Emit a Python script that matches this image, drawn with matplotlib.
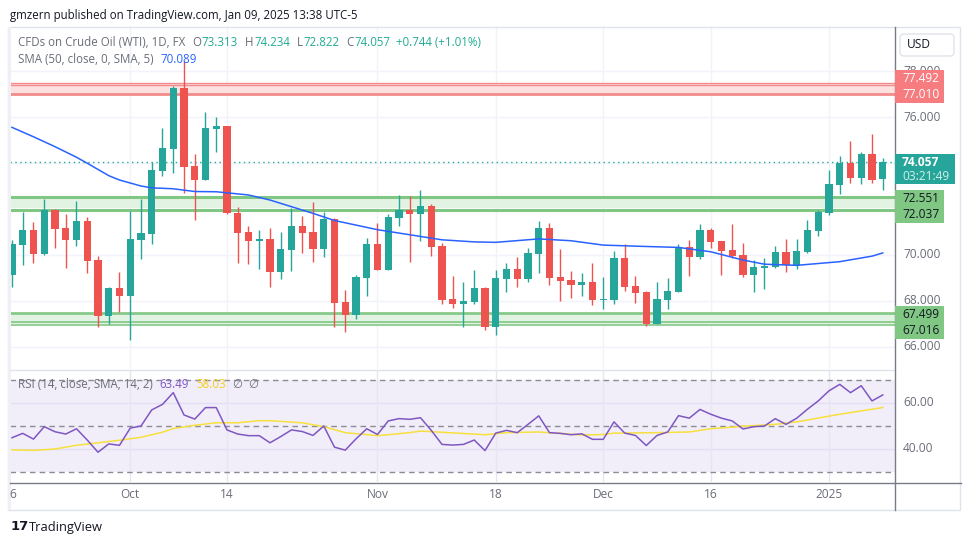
import matplotlib
matplotlib.use("Agg")
import matplotlib.pyplot as plt
from matplotlib.patches import Rectangle, FancyBboxPatch

W, H = 970, 545
plt.rcParams['font.family'] = ['Open Sans', 'DejaVu Sans']

# ---------------- data ----------------
opens = [69.13, 70.43, 71.09, 70.04, 71.96, 71.17, 70.65, 71.48, 69.78, 67.36,
         68.57, 68.23, 70.65, 70.91, 73.67, 74.61, 77.26, 73.87, 73.27, 75.49,
         75.61, 71.83, 71.00, 70.62, 70.69, 69.28, 70.23, 71.26, 71.00, 70.27,
         71.57, 67.96, 67.40, 69.01, 70.48, 69.36, 71.61, 71.96, 71.78, 72.13,
         70.39, 68.09, 67.88, 67.97, 68.57, 66.88, 68.97, 69.39, 68.97, 70.06,
         71.17, 69.04, 68.91, 68.71, 68.83, 68.06, 68.06, 69.88, 68.65, 68.39,
         67.01, 68.06, 68.40, 70.35, 69.93, 71.09, 70.61, 70.22, 70.00, 69.13,
         69.45, 69.48, 70.13, 69.54, 70.14, 71.06, 71.84, 73.06, 74.00, 73.36,
         74.39, 73.313]
highs = [70.65, 71.87, 71.43, 72.43, 71.98, 71.78, 72.35, 71.67, 69.96, 68.60,
         69.26, 71.91, 72.43, 74.04, 75.52, 77.35, 78.45, 74.39, 76.22, 76.00,
         75.63, 72.07, 71.26, 71.09, 71.17, 71.00, 72.03, 71.70, 72.30, 71.87,
         71.60, 68.48, 69.13, 70.74, 71.39, 71.78, 72.61, 72.57, 72.83, 72.22,
         70.51, 69.09, 68.83, 69.35, 68.62, 69.35, 69.65, 69.91, 70.30, 71.48,
         71.39, 70.26, 69.30, 69.22, 69.65, 69.04, 70.17, 70.48, 69.09, 68.45,
         68.83, 69.00, 70.48, 70.65, 71.35, 71.17, 70.63, 71.35, 70.52, 69.78,
         69.88, 70.39, 70.70, 70.70, 71.52, 71.96, 73.70, 74.30, 74.96, 74.48,
         75.26, 74.234]
lows = [68.62, 69.57, 69.67, 69.98, 70.32, 69.45, 70.41, 69.23, 66.88, 67.00,
        67.51, 66.30, 69.83, 70.48, 73.43, 73.58, 72.68, 71.54, 73.25, 74.49,
        71.80, 69.67, 69.62, 69.41, 68.62, 68.97, 69.32, 70.10, 69.71, 69.93,
        66.88, 66.67, 67.23, 68.23, 69.34, 69.35, 71.26, 69.71, 70.62, 69.97,
        67.88, 67.71, 66.88, 67.88, 66.75, 66.53, 68.41, 68.62, 68.84, 69.23,
        68.71, 68.01, 68.14, 68.23, 67.84, 67.67, 67.88, 68.45, 67.93, 66.93,
        66.99, 67.67, 68.38, 69.10, 69.84, 70.32, 69.14, 69.88, 69.06, 68.41,
        68.54, 69.45, 69.26, 69.41, 70.10, 70.84, 71.75, 72.67, 73.14, 73.10,
        73.14, 72.822]
closes = [70.48, 71.09, 70.04, 71.96, 71.13, 70.65, 71.48, 69.74, 67.36, 68.57,
          68.23, 70.70, 70.96, 73.70, 74.65, 77.26, 73.84, 73.27, 75.52, 75.61,
          71.81, 70.97, 70.62, 70.69, 69.28, 70.26, 71.26, 70.97, 70.27, 71.57,
          67.93, 67.40, 69.04, 70.48, 69.36, 71.65, 71.96, 71.78, 72.13, 70.36,
          68.06, 67.88, 68.00, 68.57, 66.88, 69.00, 69.39, 68.97, 70.09, 71.17,
          69.01, 68.88, 68.71, 68.83, 68.06, 68.10, 69.88, 68.62, 68.36, 67.01,
          68.09, 68.43, 70.35, 69.93, 71.09, 70.58, 70.19, 69.97, 69.13, 69.48,
          69.52, 70.13, 69.57, 70.17, 71.09, 71.87, 73.09, 74.00, 73.36, 74.39,
          73.27, 74.057]

sma_idx = [0, 2, 4, 6, 7, 9, 10, 12, 13, 15, 17, 19, 22, 24, 26, 28, 30, 32, 34,
           37, 40, 43, 45, 49, 52, 55, 59, 62, 65, 68, 70, 73, 77, 80, 81]
sma_val = [75.55, 75.14, 74.71, 74.25, 73.99, 73.45, 73.26, 73.00, 72.92, 72.88,
           72.76, 72.75, 72.61, 72.39, 72.10, 71.81, 71.50, 71.30, 71.10, 70.88,
           70.66, 70.57, 70.55, 70.70, 70.62, 70.43, 70.37, 70.33, 70.14, 69.78,
           69.60, 69.55, 69.71, 69.95, 70.089]

rsi = [44.9, 46.8, 44.3, 49.7, 47.5, 46.5, 48.8, 43.9, 38.6, 42.2,
       41.6, 49.1, 50.0, 57.0, 59.4, 64.5, 54.8, 53.0, 58.0, 58.0,
       48.3, 46.5, 45.8, 45.8, 42.7, 45.4, 48.3, 47.6, 45.9, 50.0,
       40.8, 39.5, 44.4, 48.8, 46.3, 52.2, 53.2, 52.9, 53.6, 48.1,
       42.0, 41.7, 42.0, 43.9, 39.3, 46.9, 48.1, 47.1, 50.7, 54.4,
       47.1, 46.8, 46.2, 46.6, 44.2, 44.2, 51.8, 46.9, 45.9, 41.5,
       45.9, 47.4, 54.5, 53.4, 57.2, 55.1, 53.4, 52.2, 48.7, 49.7,
       50.0, 53.2, 50.7, 53.4, 57.3, 60.9, 65.3, 68.1, 64.5, 67.5,
       60.9, 63.49]
rsi_ma_idx = [0, 2, 4, 6, 8, 10, 12, 14, 15, 17, 19, 21, 23, 24, 27, 29, 31, 34,
              37, 38, 44, 46, 49, 53, 55, 56, 60, 63, 65, 68, 71, 73, 77, 81]
rsi_ma_val = [39.6, 39.4, 40.0, 41.6, 42.7, 43.8, 45.1, 47.3, 48.9, 50.3, 51.4,
              51.4, 52.3, 52.3, 51.4, 49.7, 47.1, 45.8, 47.1, 47.8, 46.2, 47.1,
              47.4, 46.1, 46.3, 46.9, 47.1, 47.4, 48.8, 49.9, 50.7, 51.8, 55.1, 58.03]

tick_idx = [0, 11, 20, 34, 45, 55, 65, 76]
tick_labels = ['6', 'Oct', '14', 'Nov', '18', 'Dec', '16', '2025']
price_ticks = [66, 68, 70, 72, 74, 76, 78]
price_labels_shown = [66, 68, 70, 76]
price_label_partial = 78
rsi_ticks = [40, 60]
resist_band = [77.492, 77.010]
support_band_1 = [72.551, 72.037]
support_band_2 = [67.499, 67.016]
last_price = 74.057
countdown = '03:21:49'
sma_last = '70.089'
rsi_last, rsi_ma_last = '63.49', '58.03'

# ---------------- colours ----------------
UP, DOWN = '#26a69a', '#ef5350'
GRID = '#f0f3fa'
TXT = '#131722'
GRAY = '#6a6d78'

fig = plt.figure(figsize=(W / 100, H / 100), dpi=100)
fig.patch.set_facecolor('white')


def add_ax(x0, y0, x1, y1, **kw):
    return fig.add_axes([x0 / W, 1 - y1 / H, (x1 - x0) / W, (y1 - y0) / H], **kw)


X0PX, DXPX = 12, 10.75        # pixel of first bar, pixels per bar
AX_L, AX_R = 10, 895
ax = add_ax(AX_L, 26, AX_R, 369)
ax.set_xlim((AX_L - X0PX) / DXPX, (AX_R - X0PX) / DXPX)
ax.set_ylim(65.043, 79.957)
ax.axis('off')

ax2 = add_ax(AX_L, 371, AX_R, 482)
ax2.set_xlim(ax.get_xlim())
ax2.set_ylim(25.65, 73.91)
ax2.axis('off')

# grids
for p in price_ticks:
    ax.axhline(p, color=GRID, lw=1, zorder=0)
for t in tick_idx[1:]:
    ax.axvline(t, color=GRID, lw=1, zorder=0)

# zones
ax.axhspan(resist_band[1], resist_band[0], color='#fde1e1', lw=0, zorder=1)
ax.axhline(resist_band[0], color='#f28b8b', lw=1.0, zorder=2)
ax.axhline(resist_band[0] - 0.09, color='#f28b8b', lw=1.0, zorder=2)
ax.axhline(resist_band[1], color='#f28b8b', lw=2.0, zorder=2)

ax.axhspan(support_band_1[1], support_band_1[0], color='#e3f3e3', lw=0, zorder=1)
ax.axhline(support_band_1[0] - 0.04, color='#81c784', lw=2.2, zorder=2)
ax.axhline(support_band_1[1] - 0.06, color='#81c784', lw=2.2, zorder=2)

ax.axhspan(support_band_2[1], support_band_2[0], color='#e3f3e3', lw=0, zorder=1)
for lv in [support_band_2[0], support_band_2[0] - 0.08,
           support_band_2[1] + 0.05, support_band_2[1] - 0.05]:
    ax.axhline(lv, color='#81c784', lw=1.2, zorder=2)

# last price dotted line
ax.axhline(last_price, color='#22ab94', lw=1, ls=(0, (1, 2.5)), zorder=3)

# candles
for i, (o, h, l, c) in enumerate(zip(opens, highs, lows, closes)):
    col = UP if c >= o else DOWN
    ax.vlines(i, l, h, color=col, lw=1, zorder=4)
    body = max(abs(c - o), 0.04)
    ax.bar(i, body, bottom=min(o, c), width=0.66, color=col, lw=0, zorder=5)

ax.plot(sma_idx, sma_val, color='#2962ff', lw=1.1, zorder=6)

# RSI pane
ax2.axhspan(30, 70, color='#f2eef9', lw=0, zorder=0)
for r in rsi_ticks:
    ax2.axhline(r, color='#e4def2', lw=1, zorder=1)
for t in tick_idx[1:]:
    ax2.axvline(t, color='#e8e4f3', lw=1, zorder=1)
for r in [70, 50, 30]:
    ax2.axhline(r, color='#8a8d97', lw=1, ls=(0, (4, 3)), zorder=2)
ax2.plot(range(len(rsi)), rsi, color='#7e57c2', lw=1.1, zorder=4)
ax2.plot(rsi_ma_idx, rsi_ma_val, color='#f7e03c', lw=1.1, zorder=3)

# ---------------- overlay (pixel coordinates) ----------------
ov = fig.add_axes([0, 0, 1, 1], zorder=10)
ov.set_xlim(0, W)
ov.set_ylim(H, 0)
ov.axis('off')
ov.patch.set_alpha(0)


def py(p):
    return H - ax.transData.transform((0, p))[1]


def px(i):
    return ax.transData.transform((i, 0))[0]


def ry(r):
    return H - ax2.transData.transform((0, r))[1]


# frame lines
ov.add_patch(Rectangle((8.5, 26.5), 952, 483.5, fill=False, ec='#e0e3eb', lw=1))
ov.add_patch(Rectangle((8.5, 26.5), 2.5, 483.5, color='#eef0f5', lw=0))
ov.plot([10, 895], [370, 370], color='#e0e3eb', lw=1)
ov.plot([10, 961], [482.5, 482.5], color='#787b86', lw=1)
ov.plot([895.5, 895.5], [26.5, 510], color='#787b86', lw=1)

FS_AX = 8.6
# price labels
for p in price_labels_shown:
    ov.text(903, py(p), f'{p:.3f}', va='center', ha='left', size=FS_AX, color=GRAY, zorder=1)


def box(levels, offset, face, tcol):
    cy = sum(py(v) for v in levels) / len(levels) + offset
    ov.add_patch(Rectangle((895.5, cy - 16.5), 48.5, 33, color=face, lw=0, zorder=2))
    ov.text(902, cy - 8, f'{levels[0]:.3f}', va='center', ha='left', size=FS_AX, color=tcol, zorder=3)
    ov.text(902, cy + 8, f'{levels[1]:.3f}', va='center', ha='left', size=FS_AX, color=tcol, zorder=3)
    return cy - 16.5


top_red = box(resist_band, -2, '#f77c80', 'white')
box(support_band_1, 4, '#81c784', TXT)
box(support_band_2, 4.5, '#81c784', TXT)

# 78.000 label: only its upper part peeks out above the red box
t78 = ov.text(903, py(price_label_partial), f'{price_label_partial:.3f}', va='center',
              ha='left', size=FS_AX, color=GRAY, zorder=1)
clip = Rectangle((896, top_red - 12), 64, 12, transform=ov.transData)
t78.set_clip_path(clip)
t78.set_clip_on(True)

yl = py(last_price)
ov.add_patch(Rectangle((895.5, yl - 8), 60, 30, color='#26a69a', lw=0, zorder=2))
ov.text(902, yl + 0.5, f'{last_price:.3f}', va='center', ha='left', size=FS_AX,
        color='white', fontweight='bold', zorder=3)
ov.text(902, yl + 15, countdown, va='center', ha='left', size=FS_AX, color='#d4eeea', zorder=3)

# USD box
ov.add_patch(FancyBboxPatch((900, 34), 54, 22, boxstyle='round,pad=0,rounding_size=4',
                            fc='white', ec='#e0e3eb', lw=1, zorder=2))
ov.text(907, 45, 'USD', va='center', ha='left', size=FS_AX, color=TXT, zorder=3)

# RSI labels
for r in rsi_ticks:
    ov.text(903, ry(r), f'{r:.2f}', va='center', ha='left', size=FS_AX, color=GRAY)

# time labels
for t, lab in zip(tick_idx, tick_labels):
    ov.text(px(t) + (1 if t == 0 else 0), 495, lab, va='center', ha='center', size=FS_AX, color=GRAY)

# header
ov.text(10, 15, 'gmzern published on TradingView.com, Jan 09, 2025 13:38 UTC-5',
        va='center', ha='left', size=8.3, color=TXT)

renderer = fig.canvas.get_renderer()


def chain(x, y, pieces, size=8.3):
    for s, col, gap in pieces:
        t = ov.text(x, y, s, va='center', ha='left', size=size, color=col)
        bb = t.get_window_extent(renderer)
        x += bb.width + gap


TEALV = '#22ab94'
chain(18, 42.5, [('CFDs on Crude Oil (WTI), 1D, FX', GRAY, 7),
                 ('O', GRAY, 0.5), ('73.313', TEALV, 7),
                 ('H', GRAY, 0.5), ('74.234', TEALV, 7),
                 ('L', GRAY, 0.5), ('72.822', TEALV, 7),
                 ('C', GRAY, 0.5), ('74.057', TEALV, 6),
                 ('+0.744 (+1.01%)', TEALV, 0)])
chain(18, 59.5, [('SMA (50, close, 0, SMA, 5)', GRAY, 7), (sma_last, '#2962ff', 0)])
chain(18, 385, [('RSI (14, close, SMA, 14, 2)', GRAY, 7), (rsi_last, '#7e57c2', 7),
                (rsi_ma_last, '#f2d01e', 7), ('∅  ∅', GRAY, 0)])

# logo
ov.text(11, 527, '17', va='center', ha='left', size=9.5, color=TXT, fontweight='heavy',
        family=['DejaVu Sans'])
ov.text(29, 527, 'TradingView', va='center', ha='left', size=9.3, color=TXT)

fig.savefig('out.png', dpi=100, facecolor='white')
